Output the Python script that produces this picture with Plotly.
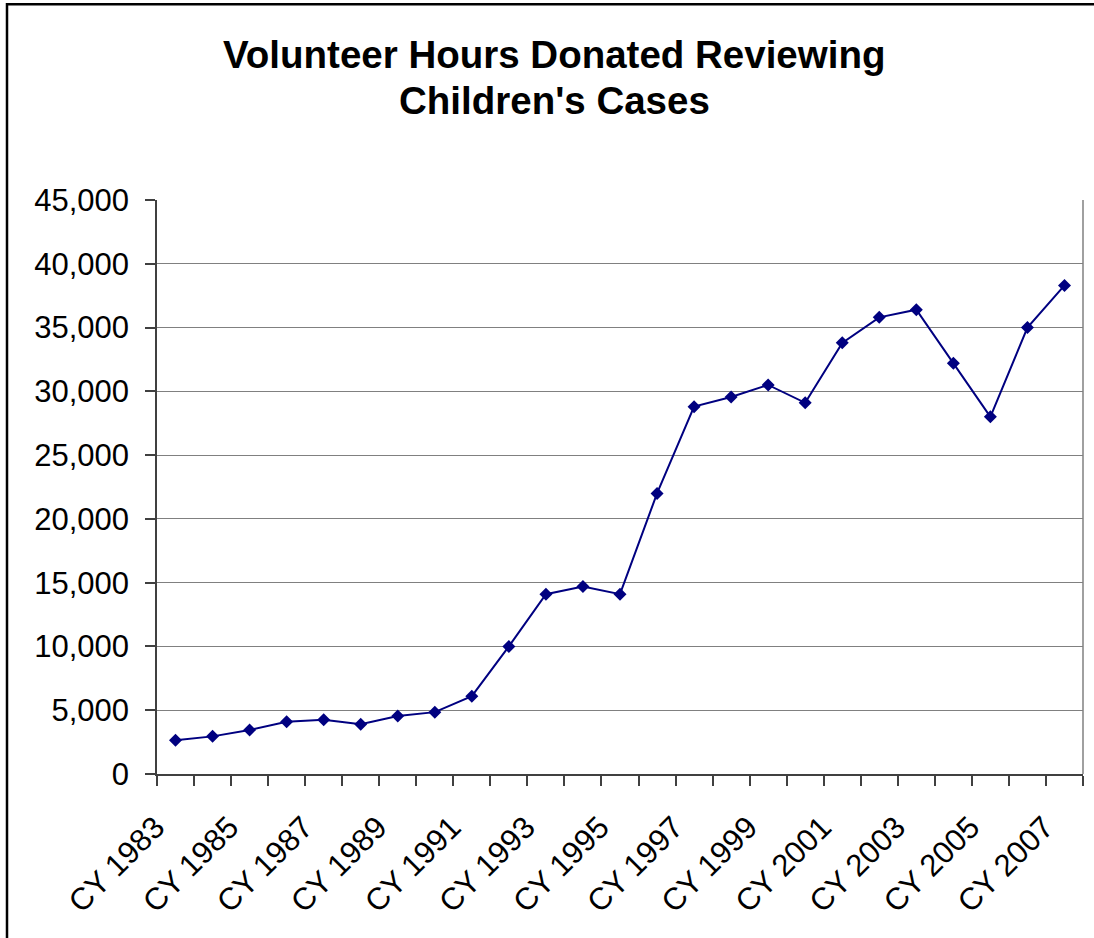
import plotly.graph_objects as go

# Calendar years and volunteer hours donated reviewing children's cases
years = [1983, 1984, 1985, 1986, 1987, 1988, 1989, 1990, 1991, 1992,
         1993, 1994, 1995, 1996, 1997, 1998, 1999, 2000, 2001, 2002,
         2003, 2004, 2005, 2006, 2007]
hours = [2650, 2950, 3450, 4100, 4250, 3900, 4550, 4850, 6100, 10000,
         14100, 14700, 14100, 22000, 28800, 29550, 30500, 29100, 33800, 35800,
         36400, 32200, 28000, 35000, 38300]

label_years = years[::2]
tick_labels = [f"CY {y}" for y in label_years]
y_ticks = list(range(0, 45001, 5000))

W, H = 1094, 938
L, R, T, B = 157, 1083, 200, 774   # plot area in pixels


def px_x(p):
    return (p - L) / (R - L)


def px_y(p):
    return (B - p) / (B - T)


FONT = "Liberation Sans, Arial, sans-serif"
NAVY = "#000080"

fig = go.Figure()
fig.add_trace(go.Scatter(
    x=years, y=hours, mode="lines+markers",
    line=dict(color=NAVY, width=2),
    marker=dict(symbol="diamond", size=10, color=NAVY),
    showlegend=False, hoverinfo="x+y",
))

fig.update_layout(
    width=W, height=H,
    margin=dict(l=L, r=W - R, t=T, b=H - B, autoexpand=False),
    paper_bgcolor="white", plot_bgcolor="white",
    font=dict(family=FONT, color="black", size=31),
    xaxis=dict(
        range=[years[0] - 0.5, years[-1] + 0.5],
        tickvals=label_years, ticktext=tick_labels, tickangle=-45,
        ticks="outside", ticklen=10, tickcolor="rgba(0,0,0,0)",
        minor=dict(tickvals=[y - 0.5 for y in years] + [years[-1] + 0.5],
                   ticks="outside", ticklen=10, tickcolor="#404040",
                   tickwidth=1.5, showgrid=False),
        showgrid=False, zeroline=False,
        showline=True, linecolor="#404040", linewidth=1.5,
        tickfont=dict(size=31), automargin=False,
        ticklabelstandoff=11, ticklabelshift=-20,
    ),
    yaxis=dict(
        range=[0, 45000], tickvals=y_ticks, tickformat=",d",
        ticks="outside", ticklen=10, tickcolor="#404040", tickwidth=1.5,
        showgrid=True, gridcolor="#808080", gridwidth=1,
        zeroline=False, showline=True, linecolor="#404040", linewidth=1.5,
        tickfont=dict(size=31), automargin=False, ticklabelstandoff=10,
    ),
    annotations=[
        dict(text="<b>Volunteer Hours Donated Reviewing</b>", x=px_x(554), y=px_y(54),
             xref="paper", yref="paper", xanchor="center", yanchor="middle",
             showarrow=False, font=dict(size=38.5, family=FONT, color="black")),
        dict(text="<b>Children's Cases</b>", x=px_x(554), y=px_y(100),
             xref="paper", yref="paper", xanchor="center", yanchor="middle",
             showarrow=False, font=dict(size=38.5, family=FONT, color="black")),
    ],
    shapes=[
        # right edge of the plot area
        dict(type="line", xref="paper", yref="paper", x0=1, x1=1, y0=0, y1=1,
             line=dict(color="#808080", width=1.5)),
        # outer chart frame: left edge
        dict(type="line", xref="paper", yref="paper",
             x0=px_x(7), x1=px_x(7), y0=px_y(H), y1=px_y(3),
             line=dict(color="black", width=2.5), layer="above"),
        # outer chart frame: top edge
        dict(type="line", xref="paper", yref="paper",
             x0=px_x(6), x1=px_x(W), y0=px_y(4.3), y1=px_y(4.3),
             line=dict(color="black", width=2.5), layer="above"),
    ],
)

fig.write_html(
    "out.html",
    config={"displayModeBar": False},
    post_script="document.body.style.margin='0';"
                "document.body.style.overflow='hidden';"
                "document.documentElement.style.overflow='hidden';",
)
